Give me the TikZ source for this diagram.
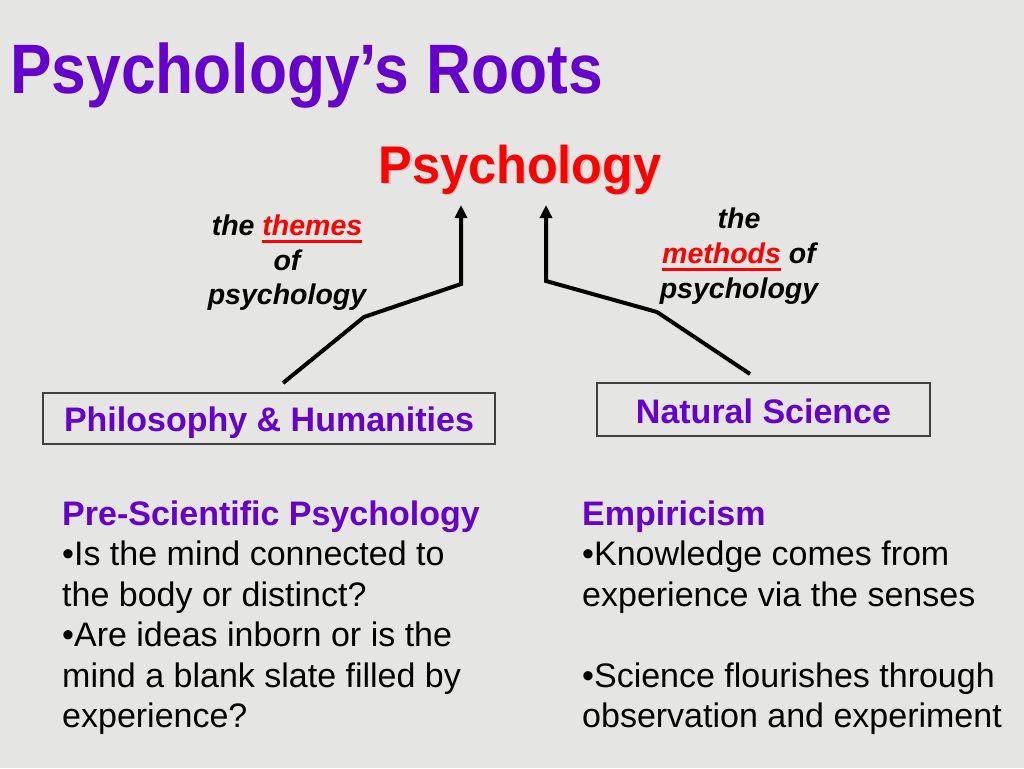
\documentclass[tikz,border=0pt]{standalone}
\usepackage{fontspec}
\setmainfont{Liberation Sans}
\newfontfamily\narrowfont{Liberation Sans}[FakeStretch=0.89]
\newfontfamily\headfont{Liberation Sans}[FakeStretch=0.95]
\usetikzlibrary{arrows.meta}
\definecolor{slidebg}{RGB}{229,229,227}
\definecolor{rootpurple}{RGB}{102,0,204}
\definecolor{rootred}{RGB}{255,0,0}
\newsavebox{\keybox}
\newcommand{\keyword}[1]{{\color{rootred}\sbox{\keybox}{#1}%
    \rlap{\rule[-8pt]{\wd\keybox}{3pt}}\usebox{\keybox}}}

\begin{document}
\begin{tikzpicture}[x=1pt,y=-1pt,
    >={Triangle[length=13pt,width=12pt]},
    body/.style={anchor=base west, inner sep=0, font=\fontsize{34}{40}\selectfont},
    head/.style={body, text=rootpurple, font=\fontsize{34}{40}\selectfont\bfseries},
    theme/.style={anchor=base, inner sep=0, font=\fontsize{28.5}{34}\selectfont\bfseries\itshape},
    rootbox/.style={draw=black!75, line width=1.3pt, inner sep=0, anchor=base,
        text=rootpurple, font=\fontsize{34}{40}\selectfont\bfseries},
    root/.style={->, line width=4pt}]
    \fill[slidebg] (0,0) rectangle (1024,768);
    \useasboundingbox (0,0) rectangle (1024,768);

    \node (title) [anchor=base west, inner sep=0, text=rootpurple,
        font=\fontsize{70}{84}\selectfont\narrowfont\bfseries] at (10,93) {Psychology’s Roots};

    \node (psyshadow) [anchor=base, inner sep=0, text=black!25,
        font=\fontsize{53}{60}\selectfont\headfont\bfseries] at (521.5,184.5) {Psychology};
    \node (psy) [anchor=base, inner sep=0, text=rootred,
        font=\fontsize{53}{60}\selectfont\headfont\bfseries] at (520,183) {Psychology};

    \node (themes1) [theme] at (287,235) {the \keyword{themes}};
    \node (themes2) [theme] at (287,270) {of};
    \node (themes3) [theme] at (287,304) {psychology};

    \node (methods1) [theme] at (739,228) {the};
    \node (methods2) [theme] at (739,263) {\keyword{methods} of};
    \node (methods3) [theme] at (739,298) {psychology};

    \node (philo) [rootbox, minimum width=452pt, text height=38pt, text depth=13pt]
        at (269,431) {Philosophy \& Humanities};
    \node (natsci) [rootbox, minimum width=333pt, text height=40pt, text depth=13pt]
        at (763.5,423) {Natural Science};

    \coordinate (philostart) at (283,383);
    \coordinate (philobend) at (364,317);
    \coordinate (philocorner) at (461,284);
    \coordinate (philotip) at (461,205);
    \draw[root] (philostart) -- (philobend) -- (philocorner) -- (philotip);

    \coordinate (natstart) at (750,374);
    \coordinate (natbend) at (657,312);
    \coordinate (natcorner) at (546,281);
    \coordinate (nattip) at (546,205);
    \draw[root] (natstart) -- (natbend) -- (natcorner) -- (nattip);

    \node (pre) [head] at (62,525) {Pre-Scientific Psychology};
    \node (pre1) [body] at (62,565) {•Is the mind connected to};
    \node (pre2) [body] at (62,606) {the body or distinct?};
    \node (pre3) [body] at (62,646) {•Are ideas inborn or is the};
    \node (pre4) [body] at (62,687) {mind a blank slate filled by};
    \node (pre5) [body] at (62,727) {experience?};

    \node (emp) [head] at (582,525) {Empiricism};
    \node (emp1) [body] at (582,565) {•Knowledge comes from};
    \node (emp2) [body] at (582,606) {experience via the senses};
    \node (emp3) [body] at (582,687) {•Science flourishes through};
    \node (emp4) [body] at (582,727) {observation and experiment};
\end{tikzpicture}
\end{document}
